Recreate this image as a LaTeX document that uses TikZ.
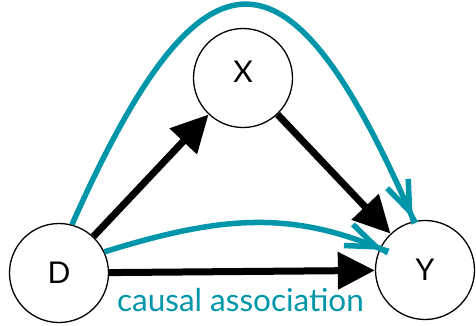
\documentclass[tikz,border=0pt]{standalone}
\usepackage{fontspec}
\setmainfont{Lato}
\usetikzlibrary{arrows.meta}
\definecolor{tealc}{RGB}{0,150,170}
\begin{document}
\begin{tikzpicture}[x=1pt,y=-1pt,
  var/.style={circle,draw,line width=1.3pt,minimum size=99pt,inner sep=0pt,font=\fontsize{30}{30}\selectfont},
  causal/.style={line width=7pt,-{Triangle[length=37pt,width=36pt]}},
  assoc/.style={draw=tealc,line width=5.5pt,-{Straight Barb[length=30pt,width=23pt] Triangle[length=26pt,width=5.5pt]}}]
\useasboundingbox (0,0) rectangle (476,325);
\node[var] (X) at (243,78) {\raisebox{6pt}[\height][\depth]{X}};
\node[var] (D) at (59,273) {D};
\node[var] (Y) at (425,270) {Y};
\coordinate (Ya) at (423,242);
\coordinate (Yb) at (407,260);
\draw[causal] (D) -- (X);
\draw[causal] (X) -- (Y);
\draw[causal] (D) -- (Y);
\draw[assoc] (D.75) .. controls (206,-77) and (292,-60) .. (Ya);
\draw[assoc] (D.25) .. controls (220,216) and (290,210) .. (Yb);
\node[text=tealc,font=\fontsize{31.5}{31.5}\selectfont,anchor=base] (lab) at (240.5,311.5) {causal association};
\end{tikzpicture}
\end{document}
